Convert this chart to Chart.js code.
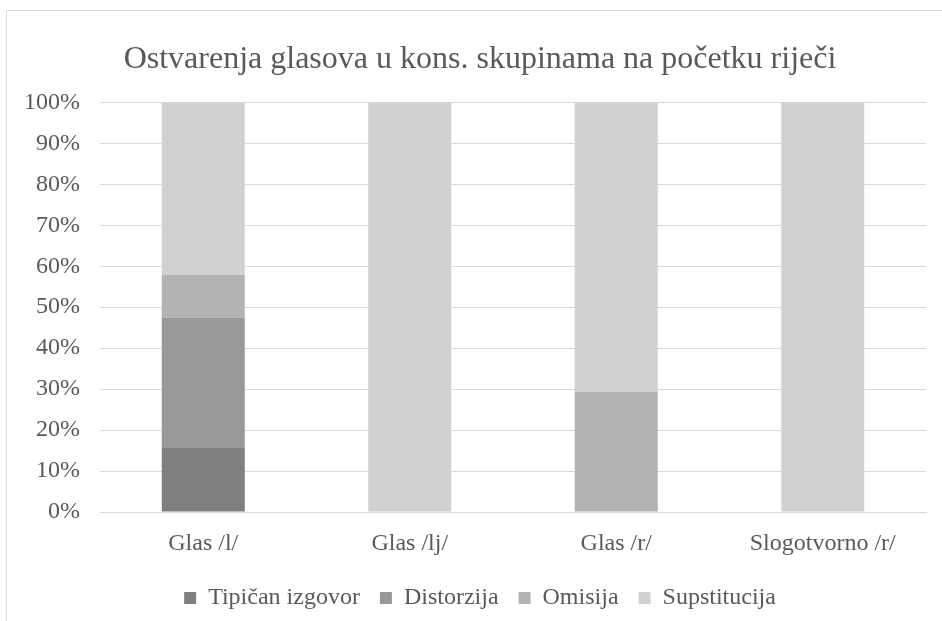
<!DOCTYPE html>
<html>
<head>
<meta charset="utf-8">
<script src="https://cdn.jsdelivr.net/npm/chart.js@4.4.1/dist/chart.umd.min.js"></script>
<style>
  html, body { margin: 0; padding: 0; background: #fff; overflow: hidden; }
  #frame {
    position: absolute; left: 6px; top: 10px; width: 948px; height: 640px;
    border-left: 1px solid #d9d9d9; border-top: 1px solid #d9d9d9;
  }
  #wrap { position: absolute; left: 0; top: 0; width: 946px; height: 612px; }
</style>
</head>
<body>
<div id="frame">
  <div id="wrap"><canvas id="chart"></canvas></div>
</div>
<script>
const categories = ['Glas /l/', 'Glas /lj/', 'Glas /r/', 'Slogotvorno /r/'];
const seriesNames = ['Tipičan izgovor', 'Distorzija', 'Omisija', 'Supstitucija'];
const tipican = [15.8, 0, 0, 0];
const distorzija = [31.6, 0, 0, 0];
const omisija = [10.5, 0, 29.4, 0];
const supstitucija = [42.1, 100, 70.6, 100];
const seriesColors = ['#7f7f7f', '#999999', '#b3b3b3', '#d1d1d1'];
const tickValues = [0, 10, 20, 30, 40, 50, 60, 70, 80, 90, 100];

const textColor = '#595959';
const fontFamily = '"Liberation Serif", "Times New Roman", serif';

const seriesValues = [tipican, distorzija, omisija, supstitucija];

const ctx = document.getElementById('chart').getContext('2d');
new Chart(ctx, {
  type: 'bar',
  data: {
    labels: categories,
    datasets: seriesNames.map((name, i) => ({
      label: name,
      data: seriesValues[i],
      backgroundColor: seriesColors[i],
      borderWidth: 0,
      barPercentage: 1,
      categoryPercentage: 0.402
    }))
  },
  options: {
    responsive: true,
    maintainAspectRatio: false,
    animation: false,
    layout: { padding: { left: 0, right: 0, top: 10, bottom: 3 } },
    plugins: {
      title: {
        display: true,
        text: 'Ostvarenja glasova u kons. skupinama na početku riječi',
        color: textColor,
        font: { family: fontFamily, size: 32, weight: 'normal' },
        padding: { top: 19, bottom: 24 }
      },
      legend: {
        position: 'bottom',
        labels: {
          color: textColor,
          font: { family: fontFamily, size: 24 },
          boxWidth: 12,
          boxHeight: 12,
          padding: 20
        }
      },
      tooltip: { enabled: false }
    },
    scales: {
      x: {
        stacked: true,
        afterFit: (scale) => { scale.height = 54; },
        grid: { display: false, drawTicks: false },
        border: { display: true, color: '#d9d9d9', width: 1 },
        ticks: {
          color: textColor,
          font: { family: fontFamily, size: 24 },
          padding: 17,
          maxRotation: 0
        }
      },
      y: {
        stacked: true,
        min: 0,
        max: 100,
        afterFit: (scale) => { scale.width = 93; },
        afterBuildTicks: (scale) => { scale.ticks = tickValues.map(v => ({ value: v })); },
        grid: { color: '#d9d9d9', drawTicks: false },
        border: { display: false },
        ticks: {
          color: textColor,
          font: { family: fontFamily, size: 24 },
          padding: 20,
          callback: (v) => v + '%'
        }
      },
      // empty right-hand margin so the plot ends where the reference's does
      yRight: {
        position: 'right',
        min: 0,
        max: 100,
        afterFit: (scale) => { scale.width = 27; },
        grid: { display: false, drawTicks: false },
        border: { display: false },
        ticks: { display: false }
      }
    }
  }
});
</script>
</body>
</html>
